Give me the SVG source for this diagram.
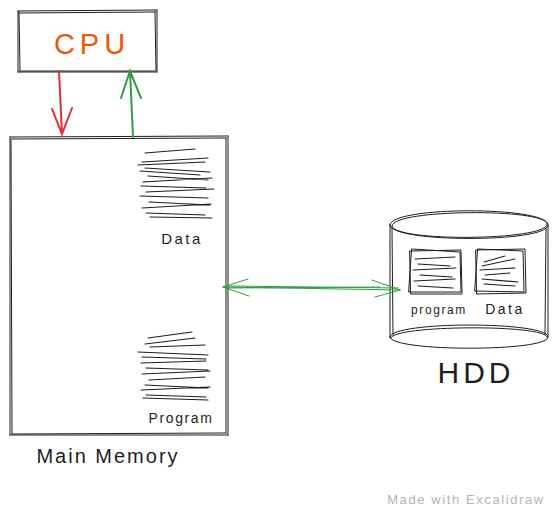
<svg xmlns="http://www.w3.org/2000/svg" width="558" height="512" viewBox="0 0 558 512">
<defs>
<style>
.sk{fill:none;stroke:#1e1e1e;stroke-width:1;stroke-linecap:round}
.sc{fill:none;stroke:#1e1e1e;stroke-width:1.1;stroke-linecap:round}
.t{font-family:"Liberation Sans","DejaVu Sans",sans-serif;fill:#1e1e1e;text-anchor:middle}
.red{fill:none;stroke:#e03131;stroke-width:2;stroke-linecap:round}
.grn{fill:none;stroke:#2f9e44;stroke-width:2;stroke-linecap:round}
.grt{fill:none;stroke:#2f9e44;stroke-width:1;stroke-linecap:round}
</style>
</defs>
<rect width="558" height="512" fill="#fff"/>

<g id="cpu">
<path class="sk" d="M18 11 L157 10 M19 13 L156 12 M157 10 L157 72 M155 12 L156 71 M157 72 L18 72 M155 71 L19 71 M18 72 L18 11 M20 70 L19 12"/>
<text class="t" x="92" y="54" font-size="29" letter-spacing="5" style="fill:#e8590c">CPU</text>
</g>

<g id="main-memory">
<path class="sk" d="M10 137 L228 136 M12 139 L226 138 M228 136 L228 435 M226 138 L226 433 M228 435 L10 435 M226 433 L12 434 M10 435 L10 137 M12 434 L11 139"/>
<g id="data-block">
<path class="sc" d="M145 153 L195 149 M142 162 L208 158 M138 165 L205 162 M145 168 L210 172 M140 171 L200 175 M148 176 L208 180 M143 182 L212 178 M141 186 L206 188 M146 192 L214 189 M140 196 L208 198 M149 202 L210 205 M142 208 L211 204 M146 213 L205 215 M150 217 L212 218"/>
<text class="t" x="182" y="244" font-size="15" letter-spacing="2.5">Data</text>
</g>
<g id="program-block">
<path class="sc" d="M148 338 L192 332 M145 344 L195 338 M150 347 L205 345 M138 352 L208 355 M142 357 L206 359 M141 363 L206 361 M146 368 L208 370 M142 374 L210 371 M149 380 L205 377 M145 385 L208 388 M141 390 L210 387 M146 395 L206 397 M143 398 L208 400"/>
<text class="t" x="181" y="423" font-size="14" letter-spacing="1.6">Program</text>
</g>
<text class="t" x="108" y="463" font-size="20" letter-spacing="2">Main Memory</text>
</g>

<g id="hdd">
<path class="sk" d="M390 225 C390 206 548 206 548 225 C548 243 390 243 390 225 Z M392 226 C391 209 546 208 547 224 C547 241 392 242 392 226"/>
<path class="sk" d="M390 337 C390 321 548 321 548 337 C548 352 390 352 390 337 Z M391 338 C392 325 546 324 547 337"/>
<path class="sk" d="M390 225 L390 337 M392 228 L393 335 M548 225 L548 337 M546 228 L545 334"/>
<path class="sk" d="M410 251 L461 250 L462 294 L411 294 Z M412 249 L460 252 L461 292 L409 292 Z"/>
<path class="sc" d="M415 259 L455 257 M418 264 L450 266 M413 270 L456 268 M420 275 L452 277 M414 281 L455 279 M418 286 L453 288"/>
<path class="sk" d="M476 250 L525 249 L526 293 L477 294 Z M478 249 L523 251 L524 292 L475 291 Z"/>
<path class="sc" d="M484 262 L505 256 M482 266 L515 259 M480 270 L515 268 M485 275 L510 273 M482 279 L518 282 M484 284 L515 286"/>
<text class="t" x="439" y="314" font-size="12" letter-spacing="1.6">program</text>
<text class="t" x="505" y="314" font-size="14" letter-spacing="2.5">Data</text>
<text class="t" x="476" y="383" font-size="30" letter-spacing="4">HDD</text>
</g>

<g id="connectors">
<path class="red" d="M59 71 L62 134 M52 109 L62 134 L72 108"/>
<path class="grn" d="M133 137 L130 71 M121 98 L130 71 L141 98"/>
<path class="grt" d="M223 287 L400 290 M225 286 L398 288 M227 288 L380 287 M223 287 L248 279 M223 287 L249 296 M400 290 L372 280 M400 290 L375 297"/>
</g>

<text x="466" y="504" font-family="'Liberation Sans','DejaVu Sans',sans-serif" font-size="13" letter-spacing="1.6" fill="#adb5bd" text-anchor="middle">Made with Excalidraw</text>
</svg>
